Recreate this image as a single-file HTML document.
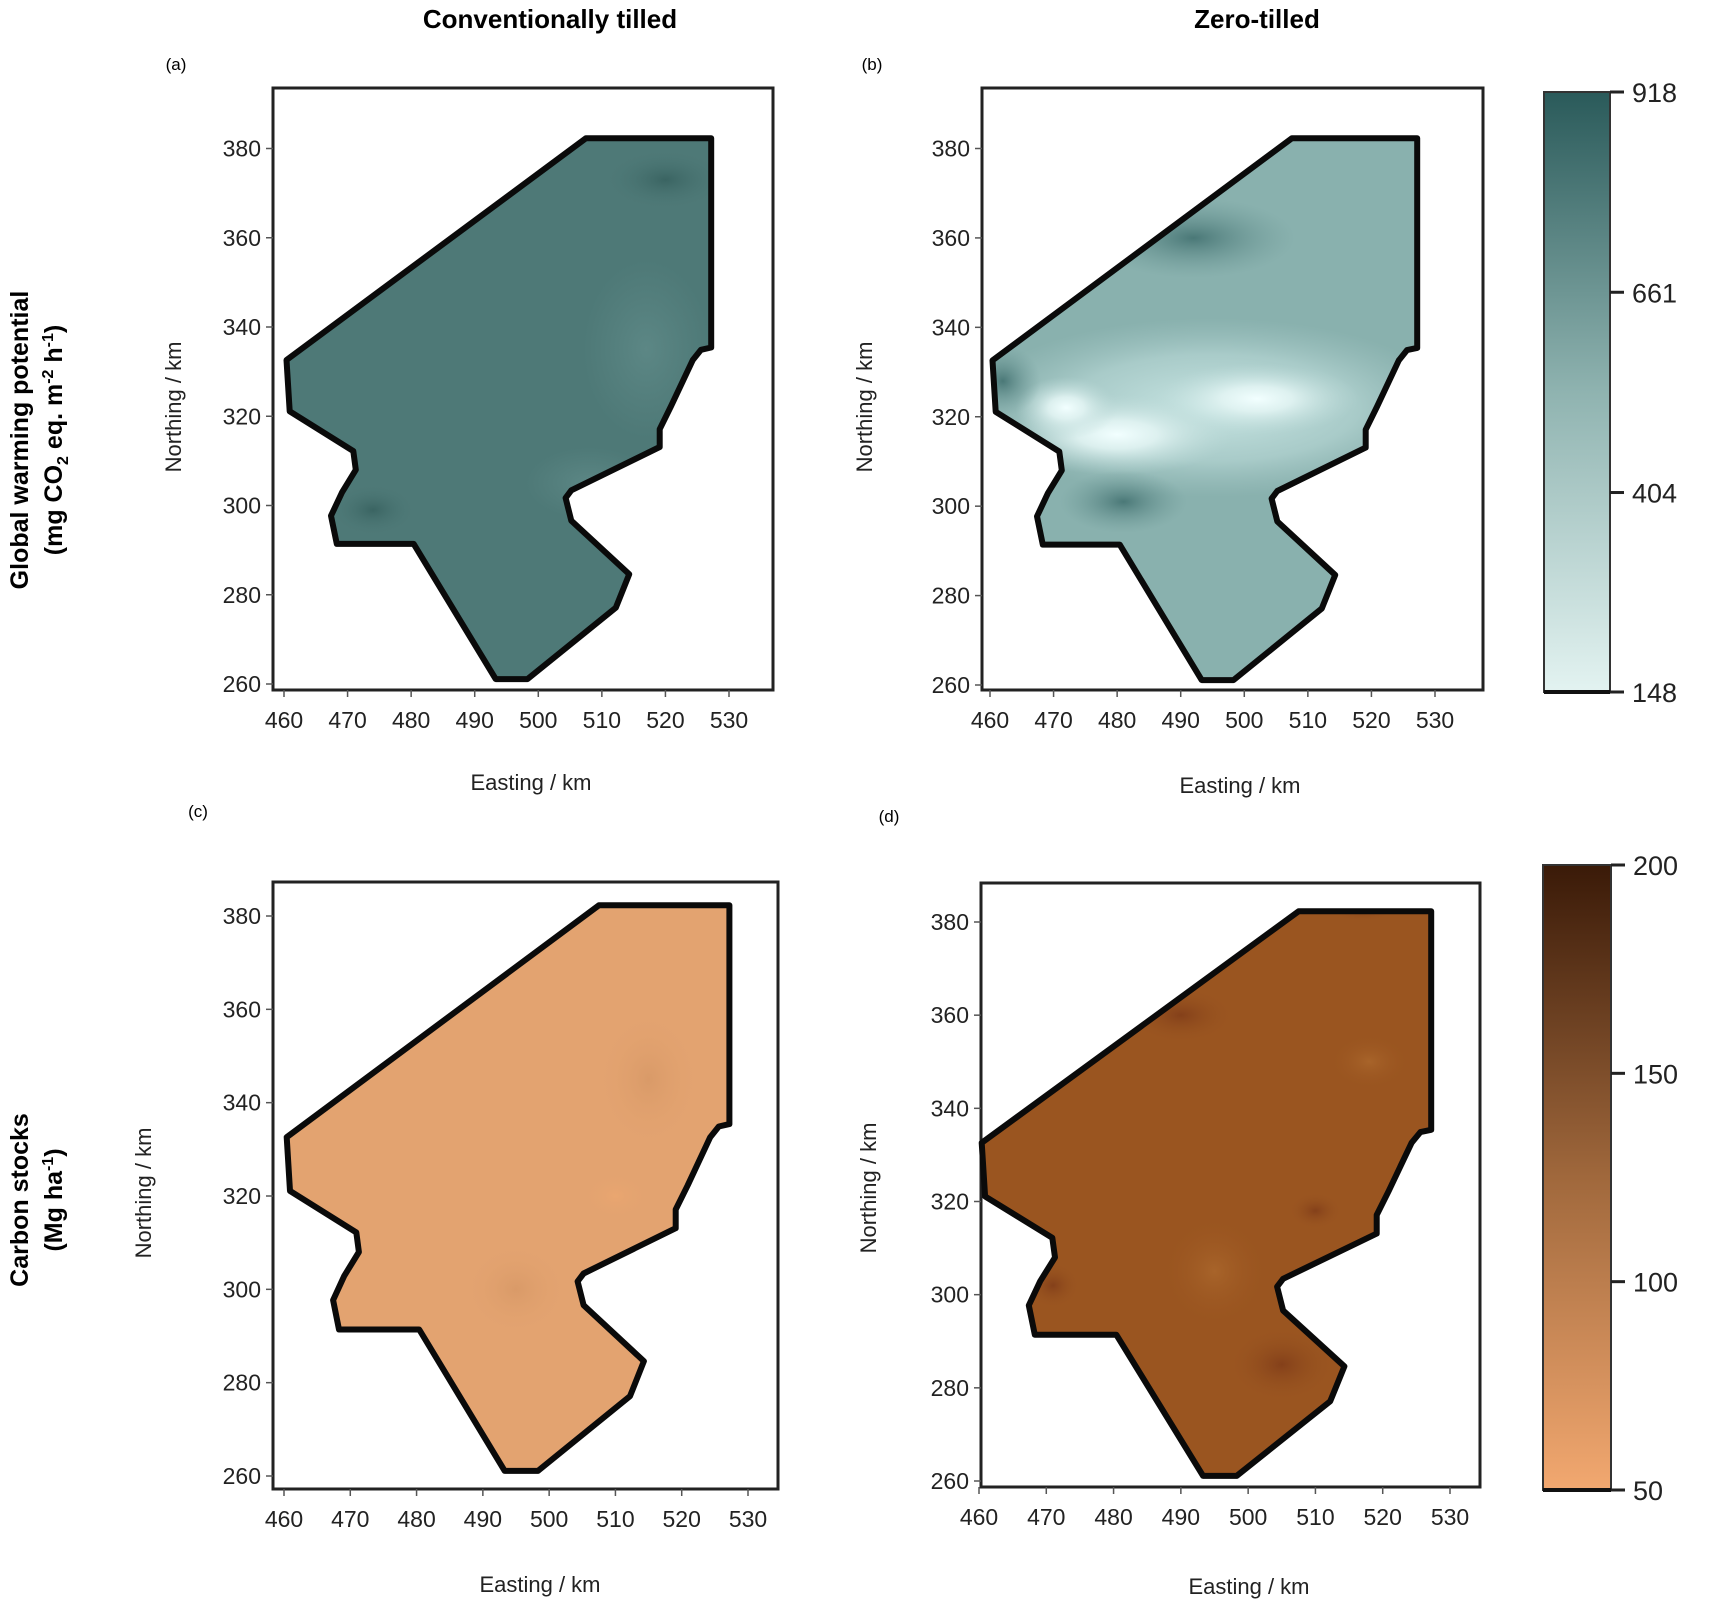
<!DOCTYPE html>
<html><head><meta charset="utf-8"><style>
html,body{margin:0;padding:0;background:#fff;}
svg{display:block;font-family:"Liberation Sans",Arial,sans-serif;}
</style></head><body>
<svg id="fig" width="1725" height="1610" viewBox="0 0 1725 1610" xmlns="http://www.w3.org/2000/svg">
<defs>
<linearGradient id="cbTeal" x1="0" y1="1" x2="0" y2="0"><stop offset="0" stop-color="#e3f3f1"/><stop offset="0.5" stop-color="#8fb3b0"/><stop offset="1" stop-color="#2a5a5a"/></linearGradient>
<linearGradient id="cbBrown" x1="0" y1="1" x2="0" y2="0"><stop offset="0" stop-color="#f2a870"/><stop offset="0.5" stop-color="#a0683c"/><stop offset="1" stop-color="#3a1a08"/></linearGradient>
<radialGradient id="gWhite"><stop offset="0" stop-color="#f2ffff"/><stop offset="0.35" stop-color="#e2f4f3" stop-opacity="0.9"/><stop offset="1" stop-color="#bcdad8" stop-opacity="0"/></radialGradient>
<radialGradient id="gPale"><stop offset="0" stop-color="#c9e6e4"/><stop offset="0.6" stop-color="#b6d6d4" stop-opacity="0.7"/><stop offset="1" stop-color="#a6c8c6" stop-opacity="0"/></radialGradient>
<radialGradient id="gDarkT"><stop offset="0" stop-color="#4a7877"/><stop offset="1" stop-color="#6f9a98" stop-opacity="0"/></radialGradient>
<radialGradient id="gDarkA"><stop offset="0" stop-color="#3a6462"/><stop offset="1" stop-color="#4f7a78" stop-opacity="0"/></radialGradient>
<radialGradient id="gLightA"><stop offset="0" stop-color="#5c8785"/><stop offset="1" stop-color="#5a8583" stop-opacity="0"/></radialGradient>
<radialGradient id="gLightC"><stop offset="0" stop-color="#eaa670"/><stop offset="1" stop-color="#e3a370" stop-opacity="0"/></radialGradient>
<radialGradient id="gDarkC"><stop offset="0" stop-color="#d99a68"/><stop offset="1" stop-color="#e3a370" stop-opacity="0"/></radialGradient>
<radialGradient id="gLightD"><stop offset="0" stop-color="#a8642a"/><stop offset="1" stop-color="#9a5520" stop-opacity="0"/></radialGradient>
<radialGradient id="gDarkD"><stop offset="0" stop-color="#84401a"/><stop offset="1" stop-color="#9a5520" stop-opacity="0"/></radialGradient>
</defs>
<text x="550" y="28" font-size="26" font-weight="bold" text-anchor="middle">Conventionally tilled</text>
<text x="1257" y="28" font-size="26" font-weight="bold" text-anchor="middle">Zero-tilled</text>
<text transform="translate(28,440) rotate(-90)" font-size="25" font-weight="bold" text-anchor="middle">Global warming potential</text>
<text transform="translate(62,440) rotate(-90)" font-size="25" font-weight="bold" text-anchor="middle">(mg CO<tspan font-size="16" dy="6">2</tspan><tspan dy="-6"> eq. m</tspan><tspan font-size="16" dy="-9">-2</tspan><tspan dy="9"> h</tspan><tspan font-size="16" dy="-9">-1</tspan><tspan dy="9">)</tspan></text>
<text transform="translate(28,1200) rotate(-90)" font-size="25" font-weight="bold" text-anchor="middle">Carbon stocks</text>
<text transform="translate(62,1200) rotate(-90)" font-size="25" font-weight="bold" text-anchor="middle">(Mg ha<tspan font-size="16" dy="-9">-1</tspan><tspan dy="9">)</tspan></text>
<g id="panels"></g>
</svg>
<script>
const xTicks=[460,470,480,490,500,510,520,530];
const yTicks=[260,280,300,320,340,360,380];
const boundaryE=[460.4,460.9,470.9,471.3,469.1,467.4,468.3,480.4,493.3,498.3,512.2,514.3,505.2,504.3,505.2,519.1,519.1,520.9,524.3,525.6,527.2,527.2,507.5];
const boundaryN=[332.6,321.1,312.2,308,302.9,297.7,291.4,291.4,261.1,261.1,277.1,284.6,296.6,301.7,303.4,313.1,317.1,322.3,332.6,334.9,335.4,382.3,382.3];
const gwpTicks=[148,404,661,918];
const carbonTicks=[50,100,150,200];
// blobs: easting, northing, radius-e(km), radius-n(km), gradient
const blobsA_E=[474,520,517,508],blobsA_N=[299,373,335,305],blobsA_RE=[7,10,10,10],blobsA_RN=[6,7,20,8],blobsA_G=["gDarkA","gDarkA","gLightA","gLightA"];
const blobsB_E=[495,480,502,472,462,492,481],blobsB_N=[322,316,324,322,328,360,301],blobsB_RE=[38,18,16,8,6,16,10],blobsB_RN=[20,9,8,7,8,9,7],blobsB_G=["gPale","gWhite","gWhite","gWhite","gDarkT","gDarkT","gDarkT"];
const blobsC_E=[510,515,495],blobsC_N=[320,345,300],blobsC_RE=[5,8,8],blobsC_RN=[5,15,10],blobsC_G=["gLightC","gDarkC","gDarkC"];
const blobsD_E=[518,495,510,505,471,490,517],blobsD_N=[350,305,318,285,302,360,383],blobsD_RE=[6,8,4,8,4,8,5],blobsD_RN=[6,12,4,8,5,6,3],blobsD_G=["gLightD","gLightD","gDarkD","gDarkD","gDarkD","gDarkD","gDarkD"];

const NS="http://www.w3.org/2000/svg";
const root=document.getElementById('panels');
function mk(tag,attrs,parent){const e=document.createElementNS(NS,tag);for(const k in attrs)e.setAttribute(k,attrs[k]);(parent||root).appendChild(e);return e;}

const panels=[
 {id:'a',box:[273,88,773,690],x0:284,x1:729,y0:684,y1:148.5,fill:'#4e7977',bE:blobsA_E,bN:blobsA_N,bRE:blobsA_RE,bRN:blobsA_RN,bG:blobsA_G,lab:[176,70],north:[181,407],east:[531,790]},
 {id:'b',box:[982,88,1483,690],x0:990,x1:1435,y0:685,y1:148.5,fill:'#89b1ae',bE:blobsB_E,bN:blobsB_N,bRE:blobsB_RE,bRN:blobsB_RN,bG:blobsB_G,lab:[872,70],north:[872,407],east:[1240,793]},
 {id:'c',box:[273,882,778,1489],x0:284,x1:748,y0:1476,y1:916,fill:'#e3a370',bE:blobsC_E,bN:blobsC_N,bRE:blobsC_RE,bRN:blobsC_RN,bG:blobsC_G,lab:[198,817],north:[151,1193],east:[540,1592]},
 {id:'d',box:[981,883,1480,1487],x0:979,x1:1450,y0:1481,y1:922,fill:'#9a5520',bE:blobsD_E,bN:blobsD_N,bRE:blobsD_RE,bRN:blobsD_RN,bG:blobsD_G,lab:[889,822],north:[876,1188],east:[1249,1594]}
];

panels.forEach(p=>{
 const sx=v=>p.x0+(v-460)/70*(p.x1-p.x0);
 const sy=v=>p.y0+(v-260)/120*(p.y1-p.y0);
 const g=mk('g',{});
 
 
 const lab=mk('text',{x:p.lab[0],y:p.lab[1],'font-size':17,'text-anchor':'middle'},g);lab.textContent='('+p.id+')';
 
 
 const [bx0,by0,bx1,by1]=p.box;
 const frame=mk('rect',{x:bx0,y:by0,width:bx1-bx0,height:by1-by0,fill:'#fff',stroke:'#222','stroke-width':3},g);
 
 
 const pts=boundaryE.map((e,i)=>sx(e).toFixed(1)+','+sy(boundaryN[i]).toFixed(1)).join(' ');
 const cp=mk('clipPath',{id:'clip'+p.id},g);mk('polygon',{points:pts},cp);
 const fillG=mk('g',{'clip-path':'url(#clip'+p.id+')'},g);
 const base=mk('polygon',{points:pts,fill:p.fill},fillG);
 
 
 p.bE.forEach((e,i)=>{
  const rx=Math.abs(sx(e+p.bRE[i])-sx(e)),ry=Math.abs(sy(p.bN[i]+p.bRN[i])-sy(p.bN[i]));
  const el=mk('ellipse',{cx:sx(e),cy:sy(p.bN[i]),rx:rx,ry:ry,fill:'url(#'+p.bG[i]+')'},fillG);
  
  
 });
 const outline=mk('polygon',{points:pts,fill:'none',stroke:'#0a0a0a','stroke-width':6,'stroke-linejoin':'round'},g);
 
 
 xTicks.forEach(v=>{
  mk('line',{x1:sx(v),x2:sx(v),y1:by1,y2:by1+7,stroke:'#555','stroke-width':1.5},g);
  const t=mk('text',{x:sx(v),y:by1+38,'font-size':23,'text-anchor':'middle',fill:'#222'},g);t.textContent=v;
  
  
 });
 yTicks.forEach(v=>{
  mk('line',{x1:bx0,x2:bx0-7,y1:sy(v),y2:sy(v),stroke:'#555','stroke-width':1.5},g);
  const t=mk('text',{x:bx0-12,y:sy(v)+8,'font-size':23,'text-anchor':'end',fill:'#222'},g);t.textContent=v;
  
  
 });
 const nt=mk('text',{transform:'translate('+p.north[0]+','+p.north[1]+') rotate(-90)','font-size':22,'text-anchor':'middle',fill:'#222'},g);nt.textContent='Northing / km';
 
 
 const et=mk('text',{x:p.east[0],y:p.east[1],'font-size':22,'text-anchor':'middle',fill:'#222'},g);et.textContent='Easting / km';
 
 
});

function colorbar(x,y0,y1,w,grad,ticks,name){
 const g=mk('g',{});
 
 
 mk('rect',{x:x,y:y0,width:w,height:y1-y0,fill:'url(#'+grad+')',stroke:'#333','stroke-width':2},g);
 mk('line',{x1:x,x2:x+w,y1:y1,y2:y1,stroke:'#111','stroke-width':4},g);
 const mn=ticks[0],mx=ticks[ticks.length-1];
 ticks.forEach(v=>{
  const yy=y1-(v-mn)/(mx-mn)*(y1-y0);
  mk('line',{x1:x+w,x2:x+w+14,y1:yy,y2:yy,stroke:'#222','stroke-width':3},g);
  const t=mk('text',{x:x+w+22,y:yy+10,'font-size':27,fill:'#222'},g);t.textContent=v;
  
  
 });
}
colorbar(1544,92,692,66,'cbTeal',gwpTicks,'colorbar-gwp');
colorbar(1543,865,1490,68,'cbBrown',carbonTicks,'colorbar-carbon');
</script>
</body></html>
